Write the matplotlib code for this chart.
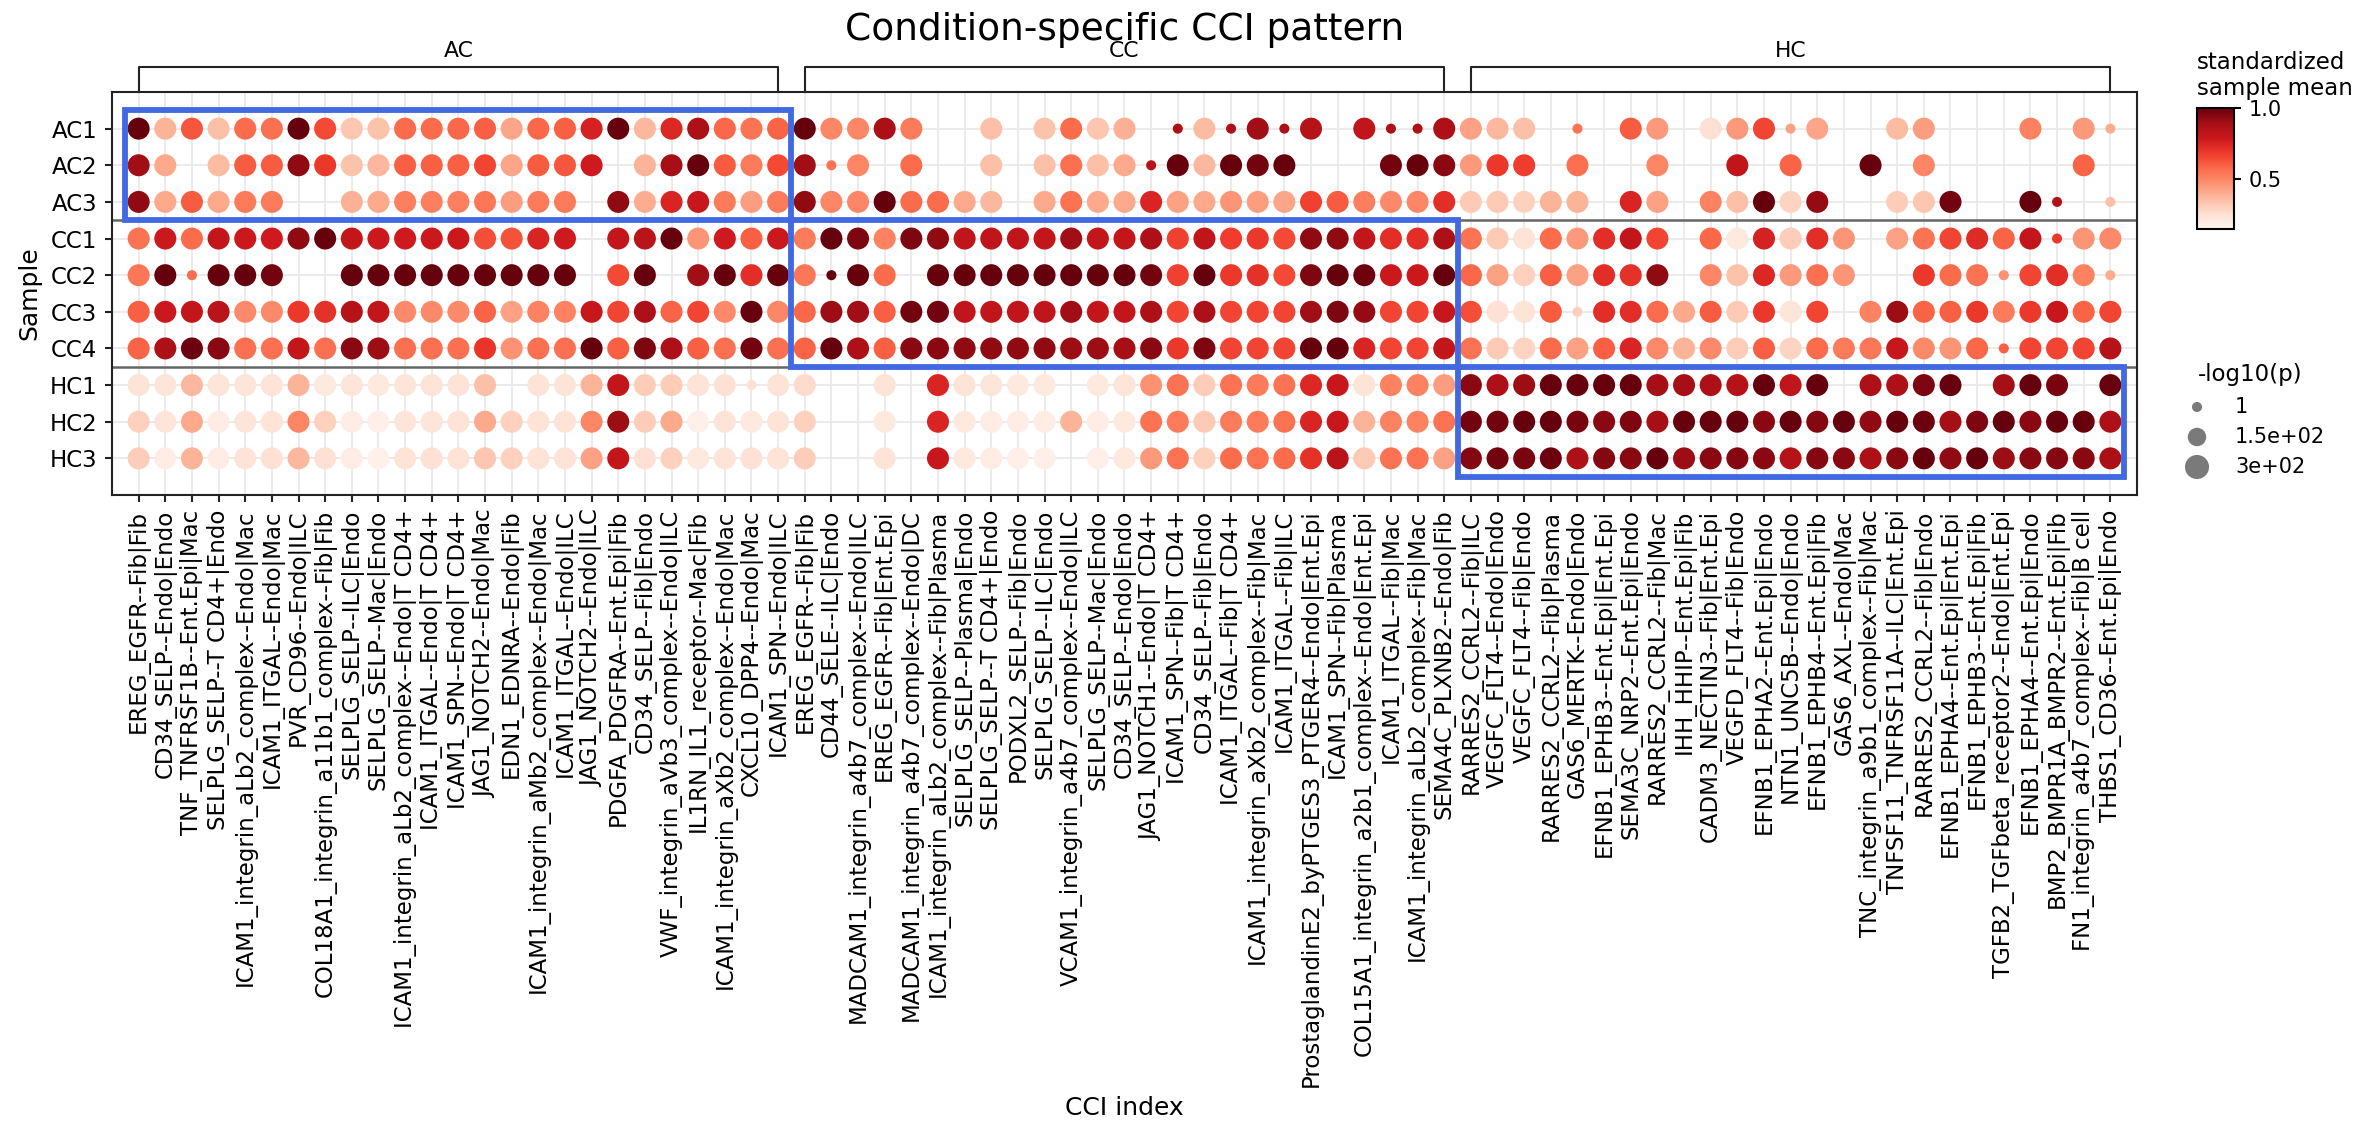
import numpy as np
import matplotlib
matplotlib.use("Agg")
import matplotlib.pyplot as plt
from matplotlib.patches import Rectangle
import matplotlib.transforms as mtransforms

n = np.nan

samples = ["AC1", "AC2", "AC3", "CC1", "CC2", "CC3", "CC4", "HC1", "HC2", "HC3"]
groups = ["AC", "CC", "HC"]

cci_AC = [
    "EREG_EGFR--Fib|Fib", "CD34_SELP--Endo|Endo", "TNF_TNFRSF1B--Ent.Epi|Mac",
    "SELPLG_SELP--T CD4+|Endo", "ICAM1_integrin_aLb2_complex--Endo|Mac", "ICAM1_ITGAL--Endo|Mac",
    "PVR_CD96--Endo|ILC", "COL18A1_integrin_a11b1_complex--Fib|Fib", "SELPLG_SELP--ILC|Endo",
    "SELPLG_SELP--Mac|Endo", "ICAM1_integrin_aLb2_complex--Endo|T CD4+", "ICAM1_ITGAL--Endo|T CD4+",
    "ICAM1_SPN--Endo|T CD4+", "JAG1_NOTCH2--Endo|Mac", "EDN1_EDNRA--Endo|Fib",
    "ICAM1_integrin_aMb2_complex--Endo|Mac", "ICAM1_ITGAL--Endo|ILC", "JAG1_NOTCH2--Endo|ILC",
    "PDGFA_PDGFRA--Ent.Epi|Fib", "CD34_SELP--Fib|Endo", "VWF_integrin_aVb3_complex--Endo|ILC",
    "IL1RN_IL1_receptor--Mac|Fib", "ICAM1_integrin_aXb2_complex--Endo|Mac", "CXCL10_DPP4--Endo|Mac",
    "ICAM1_SPN--Endo|ILC",
]
cci_CC = [
    "EREG_EGFR--Fib|Fib", "CD44_SELE--ILC|Endo", "MADCAM1_integrin_a4b7_complex--Endo|ILC",
    "EREG_EGFR--Fib|Ent.Epi", "MADCAM1_integrin_a4b7_complex--Endo|DC",
    "ICAM1_integrin_aLb2_complex--Fib|Plasma", "SELPLG_SELP--Plasma|Endo", "SELPLG_SELP--T CD4+|Endo",
    "PODXL2_SELP--Fib|Endo", "SELPLG_SELP--ILC|Endo", "VCAM1_integrin_a4b7_complex--Endo|ILC",
    "SELPLG_SELP--Mac|Endo", "CD34_SELP--Endo|Endo", "JAG1_NOTCH1--Endo|T CD4+",
    "ICAM1_SPN--Fib|T CD4+", "CD34_SELP--Fib|Endo", "ICAM1_ITGAL--Fib|T CD4+",
    "ICAM1_integrin_aXb2_complex--Fib|Mac", "ICAM1_ITGAL--Fib|ILC",
    "ProstaglandinE2_byPTGES3_PTGER4--Endo|Ent.Epi", "ICAM1_SPN--Fib|Plasma",
    "COL15A1_integrin_a2b1_complex--Endo|Ent.Epi", "ICAM1_ITGAL--Fib|Mac",
    "ICAM1_integrin_aLb2_complex--Fib|Mac", "SEMA4C_PLXNB2--Endo|Fib",
]
cci_HC = [
    "RARRES2_CCRL2--Fib|ILC", "VEGFC_FLT4--Endo|Endo", "VEGFC_FLT4--Fib|Endo",
    "RARRES2_CCRL2--Fib|Plasma", "GAS6_MERTK--Endo|Endo", "EFNB1_EPHB3--Ent.Epi|Ent.Epi",
    "SEMA3C_NRP2--Ent.Epi|Endo", "RARRES2_CCRL2--Fib|Mac", "IHH_HHIP--Ent.Epi|Fib",
    "CADM3_NECTIN3--Fib|Ent.Epi", "VEGFD_FLT4--Fib|Endo", "EFNB1_EPHA2--Ent.Epi|Endo",
    "NTN1_UNC5B--Endo|Endo", "EFNB1_EPHB4--Ent.Epi|Fib", "GAS6_AXL--Endo|Mac",
    "TNC_integrin_a9b1_complex--Fib|Mac", "TNFSF11_TNFRSF11A--ILC|Ent.Epi", "RARRES2_CCRL2--Fib|Endo",
    "EFNB1_EPHA4--Ent.Epi|Ent.Epi", "EFNB1_EPHB3--Ent.Epi|Fib", "TGFB2_TGFbeta_receptor2--Endo|Ent.Epi",
    "EFNB1_EPHA4--Ent.Epi|Endo", "BMP2_BMPR1A_BMPR2--Ent.Epi|Fib", "FN1_integrin_a4b7_complex--Fib|B cell",
    "THBS1_CD36--Ent.Epi|Endo",
]

# standardized sample mean, one list per sample (75 CCIs: AC | CC | HC)
mean_AC1 = [1.0, .38, .62, .35, .57, .56, 1.0, .65, .33, .34, .57, .57, .58, .6, .42, .58, .6, .76, 1.0, .37,
            .74, .87, .58, .55, .59, 1.0, .5, .5, .88, .53, n, n, .35, n, .34, .57, .33, .39, n, .87,
            .36, .87, .9, .87, .85, n, .82, .87, .87, .87, .43, .37, .35, n, .55, n, .61, .45, n, .25,
            .45, .66, .43, .42, n, n, .36, .44, n, n, n, .51, n, .45, .4]
mean_AC2 = [.9, .41, n, .36, .61, .61, .93, .69, .34, .37, .6, .6, .6, .66, .42, .61, .62, .78, n, .38,
            .89, 1.0, .61, .53, .65, .9, .55, .5, n, .57, n, n, .35, n, .35, .56, .35, .41, .85, 1.0,
            .37, 1.0, .98, 1.0, n, n, n, .98, 1.0, .94, .45, .69, .68, n, .56, n, n, .5, n, n,
            .82, n, .59, n, n, 1.0, n, .5, n, n, n, n, n, .59, n]
mean_AC3 = [.93, .41, .61, .41, .53, .53, n, n, .39, .41, .52, .52, .52, .54, .44, .53, .53, n, .93, .4,
            .75, .8, .53, .44, .53, .93, .5, .5, 1.0, .57, .57, .41, .37, n, .41, .55, .41, .41, .75, .43,
            .41, .46, .44, .42, .67, .61, .52, .49, .5, .72, .32, .32, .3, .38, .38, n, .75, .43, n, .51,
            .35, 1.0, .29, .92, n, n, .31, .33, .98, n, n, 1.0, .86, n, .35]
mean_CC1 = [.55, .79, .57, .81, .79, .78, .93, 1.0, .81, .79, .78, .79, .79, .64, .63, .75, .78, n, .81, .84,
            1.0, .46, .78, .6, .79, .53, 1.0, .96, .51, .96, .93, .82, .82, .82, .81, .9, .81, .81, .87, .67,
            .82, .68, .69, .65, .93, .93, .81, .72, .72, .87, .55, .32, .24, .57, .45, .72, .81, .66, n, .58,
            .21, .76, .31, .72, .46, n, .43, .55, .66, .73, .59, .81, .69, .46, .49]
mean_CC2 = [.54, 1.0, .57, 1.0, 1.0, .98, n, n, 1.0, 1.0, 1.0, 1.0, 1.0, 1.0, 1.0, 1.0, 1.0, n, .65, 1.0,
            n, .9, 1.0, .72, 1.0, .54, 1.0, 1.0, .57, n, 1.0, 1.0, 1.0, 1.0, 1.0, 1.0, 1.0, 1.0, .98, .67,
            1.0, .69, .71, .65, .96, 1.0, .99, .79, .79, 1.0, .58, .43, .3, .6, .43, .72, .71, .93, n, .5,
            .34, .74, .45, .56, .46, n, n, .69, .57, .55, .47, .66, .72, .51, .4]
mean_CC3 = [.6, .79, .81, .84, .49, .49, .69, .71, .85, .81, .49, .49, .49, .59, .43, .51, .51, .8, .66, .87,
            .59, .66, .49, 1.0, .5, .58, .91, .9, .6, .98, .98, .82, .82, .82, .82, .9, .81, .81, .87, .66,
            .87, .66, .66, .66, .9, .96, .92, .66, .66, .8, .64, .25, .24, .61, .3, .72, .72, .57, .41, .61,
            .32, .69, .23, .66, n, .51, .91, .59, .6, .69, .53, .69, .8, .59, .66]
mean_CC4 = [.59, .87, .99, .94, .56, .56, .81, .56, .94, .91, .56, .56, .56, .7, .47, .56, .56, 1.0, .6, .96,
            .87, .6, .56, .98, .56, .59, 1.0, .87, .6, .94, .94, .93, .93, .93, .93, .91, .91, .89, .94, .69,
            .96, .66, .66, .66, 1.0, 1.0, .75, .66, .66, .81, .55, .32, .29, .57, .43, .6, .75, .49, .38, .49,
            .31, .6, .29, .57, .53, .54, .8, .49, .46, .58, .6, .66, .66, .66, .85]
mean_HC1 = [.24, .23, .37, .23, .23, .24, .38, .21, .23, .21, .23, .24, .24, .35, n, .24, .24, .38, .81, .31,
            .31, .24, .25, .25, .24, .27, n, n, .24, n, .75, .24, .23, .21, .21, n, .21, .23, .47, .55,
            .31, .55, .53, .55, .74, .8, .24, .51, .51, .44, .94, .87, .91, 1.0, 1.0, 1.0, 1.0, .89, .89, .87,
            .85, 1.0, .82, 1.0, n, .87, .87, .96, 1.0, n, .89, 1.0, .97, n, 1.0]
mean_HC2 = [.3, .23, .41, .19, .23, .24, .5, .3, .19, .18, .23, .23, .24, .41, .3, .24, .24, .5, .91, .31,
            .41, .18, .24, .21, .24, .3, n, n, .21, n, .75, .21, .19, .19, .19, .38, .19, .21, .55, .53,
            .32, .53, .53, .55, .75, .8, .38, .51, .51, .55, .98, .98, 1.0, 1.0, .97, .94, .96, .89, 1.0, 1.0,
            1.0, .94, 1.0, .95, 1.0, .93, 1.0, .99, .89, .96, 1.0, .94, 1.0, 1.0, .87]
mean_HC3 = [.31, .19, .38, .19, .24, .25, .37, .25, .19, .17, .24, .25, .24, .33, .3, .24, .24, .43, .81, .25,
            .3, .21, .24, .25, .24, .31, n, n, .24, n, .8, .21, .19, .18, .18, n, .18, .21, .45, .55,
            .3, .57, .55, .57, .71, .84, .32, .55, .55, .43, .95, .98, .97, .99, .87, .95, .94, 1.0, .91, .94,
            .95, .94, .85, .95, .94, .87, .94, 1.0, .93, 1.0, .91, .94, .95, .94, .88]

# -log10(p): nearly all dots are at the large size, the listed ones are tiny
logp_large = 240
logp_small = 1
small_dots = {
    "AC1": [39, 41, 43, 47, 48, 54, 62, 74],
    "AC2": [26, 38],
    "AC3": [72, 74],
    "CC1": [72],
    "CC2": [2, 26, 70, 74],
    "CC3": [54],
    "CC4": [70],
    "HC1": [23],
}
legend_logp = [1, 150, 300]
legend_text = ["1", "1.5e+02", "3e+02"]

means = [mean_AC1, mean_AC2, mean_AC3, mean_CC1, mean_CC2, mean_CC3, mean_CC4,
         mean_HC1, mean_HC2, mean_HC3]
cci = cci_AC + cci_CC + cci_HC
group_sizes = [len(cci_AC), len(cci_CC), len(cci_HC)]
group_rows = [(0, 2), (3, 6), (7, 9)]

DPI = 150
W, H = 2368, 1137


def dot_size(v):
    # marker area in pt^2
    return (100 + 1.6 * np.asarray(v, dtype=float)) * (72 / DPI) ** 2


fig = plt.figure(figsize=(W / DPI, H / DPI), dpi=DPI)
ax = fig.add_axes([112 / W, 1 - 495 / H, 2025 / W, 403 / H])

xs = np.arange(len(cci))
sc = None
for i, s_name in enumerate(samples):
    vals = np.array(means[i], dtype=float)
    lp = np.full(len(cci), logp_large, dtype=float)
    lp[small_dots.get(s_name, [])] = logp_small
    ok = ~np.isnan(vals)
    sc = ax.scatter(xs[ok], np.full(ok.sum(), i), c=vals[ok], s=dot_size(lp[ok]),
                    cmap="Reds", vmin=0.15, vmax=1.0, edgecolors="none", zorder=3)

ax.set_xlim(-1, len(cci))
ax.set_ylim(len(samples), -1)
ax.set_xticks(xs)
ax.set_xticklabels(cci, rotation=90, fontsize=11)
ax.set_yticks(range(len(samples)))
ax.set_yticklabels(samples, fontsize=11)
ax.grid(True, color="#e8e8e8", lw=0.8, zorder=0)
ax.set_axisbelow(True)
for sp in ax.spines.values():
    sp.set_linewidth(1.0)
    sp.set_color("#222222")
ax.tick_params(width=1.0, length=3.5, color="#222222")
ax.set_xlabel("CCI index", fontsize=12)
ax.set_ylabel("Sample", fontsize=12)

# separators between conditions
for r0, r1 in group_rows[:-1]:
    ax.axhline(r1 + 0.5, color="#666666", lw=1.2, zorder=2)

# highlight boxes + brackets
trans = mtransforms.blended_transform_factory(ax.transData, ax.transAxes)
start = 0
for g, size, (r0, r1) in zip(groups, group_sizes, group_rows):
    end = start + size - 1
    ax.add_patch(Rectangle((start - 0.5, r0 - 0.5), size, r1 - r0 + 1, fill=False,
                           ec="#4169e1", lw=2.8, zorder=4, clip_on=False))
    ax.plot([start, start, end, end], [1.0, 1.062, 1.062, 1.0], color="#222222", lw=1.0,
            transform=trans, clip_on=False)
    ax.text((start + end) / 2, 1.102, g, transform=trans, ha="center", va="center", fontsize=10.5)
    start += size

fig.text((112 + 2137) / 2 / W, 1 - 30 / H, "Condition-specific CCI pattern",
         ha="center", va="center", fontsize=18)

# colorbar
cax = fig.add_axes([2197 / W, 1 - 229 / H, 37 / W, 121 / H])
cb = fig.colorbar(sc, cax=cax, ticks=[0.5, 1.0])
cb.ax.set_yticklabels(["0.5", "1.0"], fontsize=10)
cb.outline.set_linewidth(1.0)
cb.ax.tick_params(length=3.5, width=1.0)
fig.text(2197 / W, 1 - 100 / H, "standardized\nsample mean", ha="left", va="bottom",
         fontsize=11, linespacing=1.15)

# size legend
fig.text(2198 / W, 1 - 375 / H, "-log10(p)", ha="left", va="center", fontsize=11)
lax = fig.add_axes([2160 / W, 1 - 490 / H, 200 / W, 100 / H])
lax.set_xlim(2160, 2360)
lax.set_ylim(490, 390)
lax.axis("off")
leg_y = [407, 437, 467]
lax.scatter([2197] * len(legend_logp), leg_y, s=dot_size(legend_logp), color="#7a7a7a",
            edgecolors="none", clip_on=False)
for yy, t in zip(leg_y, legend_text):
    lax.text(2235, yy, t, ha="left", va="center", fontsize=10)

fig.savefig("out.png", dpi=DPI)
